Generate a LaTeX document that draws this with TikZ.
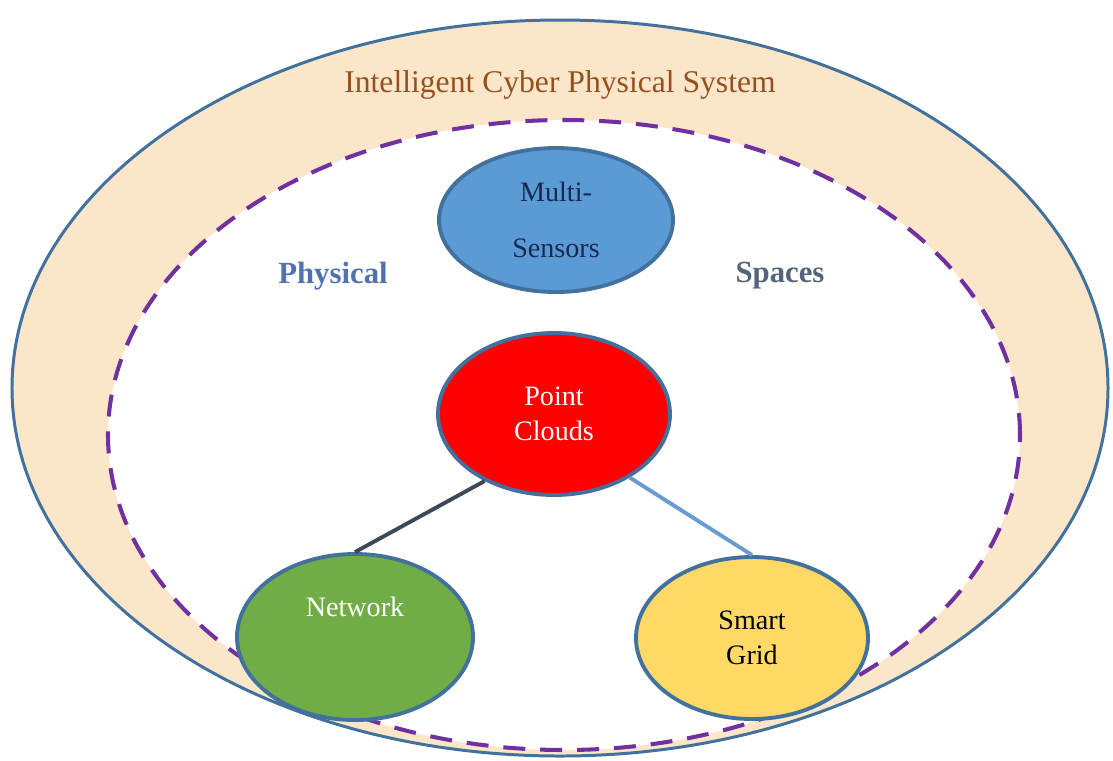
\documentclass[tikz,border=0pt]{standalone}
\usepackage{fontspec}
\setmainfont{Liberation Serif}
\usetikzlibrary{shapes,positioning,calc}

\definecolor{peach}{RGB}{252,230,202}
\definecolor{rimblue}{RGB}{65,113,156}
\definecolor{dashpurple}{RGB}{112,48,160}
\definecolor{sensorblue}{RGB}{91,155,213}
\definecolor{gridyellow}{RGB}{255,217,102}
\definecolor{netgreen}{RGB}{112,173,71}
\definecolor{titlebrown}{RGB}{150,80,30}
\definecolor{navytext}{RGB}{25,40,80}
\definecolor{physblue}{RGB}{80,115,175}
\definecolor{spacegray}{RGB}{85,100,120}
\definecolor{darkline}{RGB}{60,72,88}
\definecolor{lightline}{RGB}{105,155,210}

\begin{document}
\begin{tikzpicture}
	\tikzset{
		myzone/.style={ellipse, inner sep=0pt},
		mynode/.style={ellipse, draw=rimblue, line width=2.2pt, inner sep=0pt, align=center, font=\fontsize{16}{20}\selectfont},
		mylabel/.style={font=\fontsize{17.5}{20}\selectfont\bfseries},
		myline/.style={-, line width=2.2pt}
	}
	\useasboundingbox (0,0) rectangle (22.26,-15.2);

	% outer and inner spaces
	\node[myzone, fill=peach, draw=rimblue, line width=1.7pt, minimum width=21.92cm, minimum height=14.72cm] (ics) at (11.2,-7.76) {};
	\node[myzone, fill=white, draw=dashpurple, line width=2.3pt, dash pattern=on 12.5pt off 8.5pt, minimum width=18.24cm, minimum height=12.6cm] (phys) at (11.28,-8.7) {};

	\node[font=\fontsize{18}{20}\selectfont, text=titlebrown] (title) at (11.2,-1.7) {Intelligent Cyber Physical System};
	\node[mylabel, text=physblue] (physical) at (6.66,-5.52) {Physical};
	\node[mylabel, text=spacegray] (spaces) at (15.6,-5.52) {Spaces};

	\node[mynode, fill=sensorblue, text=navytext, minimum width=4.68cm, minimum height=2.88cm] (sensors) at (11.12,-4.4) {Multi-\\[12pt]Sensors};
	\node[mynode, fill=red, text=white, minimum width=4.64cm, minimum height=3.24cm] (clouds) at (11.08,-8.28) {Point\\Clouds};
	\node[mynode, fill=netgreen, text=white, minimum width=4.72cm, minimum height=3.32cm] (network) at (7.1,-12.74) {Network\\[14pt]};
	\node[mynode, fill=gridyellow, text=black, minimum width=4.64cm, minimum height=3.24cm] (grid) at (15.04,-12.76) {Smart\\Grid};

	\draw[myline, draw=darkline] (clouds.224) -- (network.north);
	\draw[myline, draw=lightline] (clouds.320) -- (grid.north);
\end{tikzpicture}
\end{document}
